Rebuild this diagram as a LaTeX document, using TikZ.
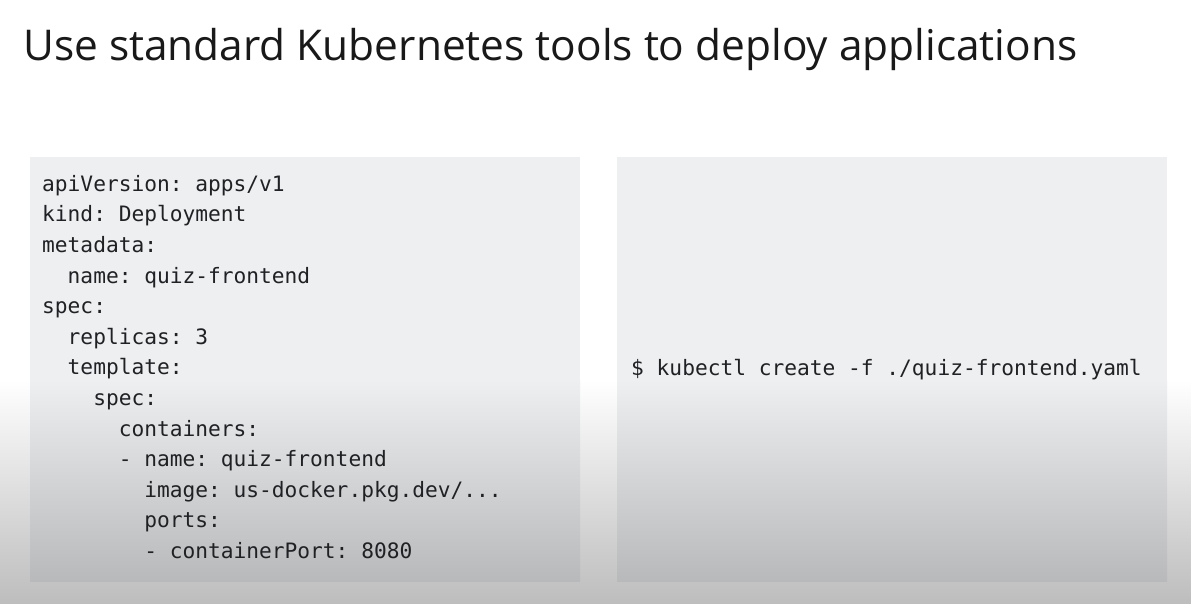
\documentclass[tikz,border=0pt]{standalone}
\usepackage{fontspec}
\setmainfont{Open Sans}
\setmonofont{DejaVu Sans Mono}
\definecolor{panelgray}{HTML}{EEEFF1}
\definecolor{panelbot}{HTML}{B8B9BB}
\definecolor{bgbot}{HTML}{BDBDBD}
\definecolor{inkc}{HTML}{202124}
\tikzset{
  panel/.style={fill=panelgray, draw=none},
  codetext/.style={anchor=north west, align=left, inner sep=0pt, text=inkc,
    font=\ttfamily\fontsize{21.2}{30.6}\selectfont},
}
\newcommand{\ind}[1]{\hspace*{#1\fontcharwd\font`0}}
\begin{document}
\begin{tikzpicture}[x=1pt,y=-1pt]
\useasboundingbox (0,0) rectangle (1191,604);
\fill[white] (0,0) rectangle (1191,604);
\shade[top color=white, bottom color=bgbot] (0,380) rectangle (1191,604);
% panels
\fill[panel] (30,157) rectangle (580,381);
\shade[top color=panelgray, bottom color=panelbot] (30,380) rectangle (580,581);
\fill[panel] (617,157) rectangle (1167,381);
\shade[top color=panelgray, bottom color=panelbot] (617,380) rectangle (1167,581);
% title
\node[anchor=base west, inner sep=0pt, text=black!90, font=\fontsize{42.4}{50}\selectfont] (title) at (23,61) {Use standard Kubernetes tools to deploy applications};
% yaml
\node[codetext] (yaml) at (42,175) {%
apiVersion: apps/v1\\
kind: Deployment\\
metadata:\\
\ind{2}name: quiz-frontend\\
spec:\\
\ind{2}replicas: 3\\
\ind{2}template:\\
\ind{4}spec:\\
\ind{6}containers:\\
\ind{6}- name: quiz-frontend\\
\ind{8}image: us-docker.pkg.dev/...\\
\ind{8}ports:\\
\ind{8}- containerPort: 8080};
\node[codetext, anchor=west] (cmd) at (631,370) {\$ kubectl create -f ./quiz-frontend.yaml};
\end{tikzpicture}
\end{document}
